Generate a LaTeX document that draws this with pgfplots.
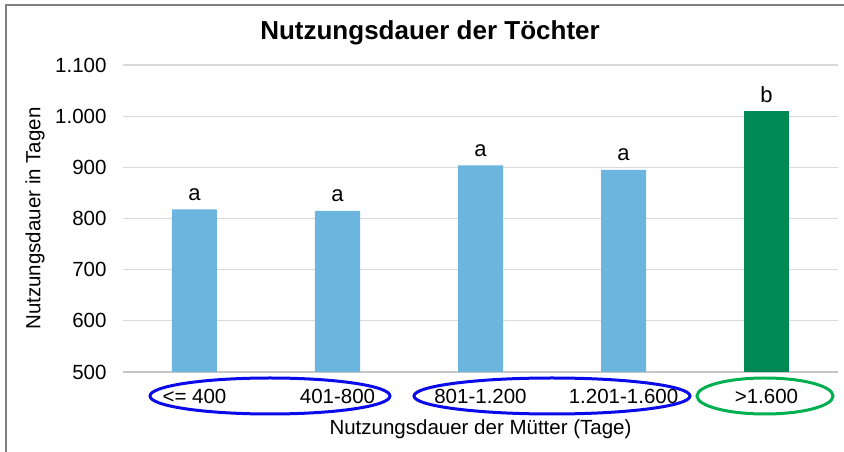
\documentclass[border=0pt]{standalone}
\usepackage{fontspec}
\setmainfont{Liberation Sans}
\usepackage{pgfplots}
\pgfplotsset{compat=1.18}
\usetikzlibrary{calc}
\definecolor{barblue}{RGB}{108,181,222}
\definecolor{bargreen}{RGB}{0,137,84}
\definecolor{ellblue}{RGB}{10,10,235}
\definecolor{ellgreen}{RGB}{0,176,80}
\definecolor{gridgray}{RGB}{217,217,217}
\definecolor{framegray}{RGB}{128,128,128}
\begin{document}
\begin{tikzpicture}[x=1pt,y=1pt]
\begin{axis}[
  scale only axis, width=715pt, height=307pt,
  xmin=-0.5, xmax=4.5, ymin=500, ymax=1100,
  ytick={500,600,...,1100},
  axis x line*=bottom, axis y line*=left,
  x axis line style={draw=gray!45, line width=1.2pt, -},
  y axis line style={draw=none},
  ymajorgrids, grid style={draw=gridgray, line width=1.2pt},
  ytick style={draw=none}, xtick style={draw=none},
  xtick={0,1,2,3,4},
  xticklabels={{<= 400},{401-800},{801-1.200},{1.201-1.600},{>1.600}},
  extra x ticks={-0.5,0.5,1.5,2.5,3.5,4.5},
  extra x tick labels={},
  extra x tick style={tick style={draw=gridgray, line width=1.2pt}, major tick length=6pt, tick align=outside, grid=none},
  /pgf/number format/1000 sep={.},
  /pgf/number format/assume math mode=true,
  yticklabel style={font=\fontsize{20.5}{24}\selectfont, anchor=east, xshift=-13pt},
  xticklabel style={font=\fontsize{20.5}{24}\selectfont, anchor=base, yshift=-32pt},
  xlabel={Nutzungsdauer der Mütter (Tage)},
  xlabel style={font=\fontsize{20.5}{24}\selectfont, at={(rel axis cs:0.5,-0.202)}, anchor=base},
  ylabel={Nutzungsdauer in Tagen},
  ylabel style={font=\fontsize{20.5}{24}\selectfont, at={(rel axis cs:-0.1231,0.5)}, anchor=center},
  title={Nutzungsdauer der Töchter},
  title style={font=\fontsize{26}{30}\selectfont\bfseries, at={(rel axis cs:0.4294,1.062)}, anchor=base},
  clip=false,
]
\addplot[ybar, bar shift=0pt, bar width=45pt, fill=barblue, draw=none,
  point meta=explicit symbolic, nodes near coords,
  nodes near coords style={font=\fontsize{22}{26}\selectfont, anchor=base, yshift=9pt, inner sep=0pt}]
  table[x=x, y=y, meta=l] {
x y l
0 818 a
1 815 a
2 904 a
3 895 a
};
\addplot[ybar, bar shift=0pt, bar width=45pt, fill=bargreen, draw=none,
  point meta=explicit symbolic, nodes near coords,
  nodes near coords style={font=\fontsize{22}{26}\selectfont, anchor=base, yshift=9pt, inner sep=0pt}]
  table[x=x, y=y, meta=l] {
x y l
4 1010 b
};
\coordinate (O) at (rel axis cs:0,0);
\end{axis}
\pgfresetboundingbox
\begin{scope}[shift={($(O)+(-123,-80)$)}]
\useasboundingbox (0,0) rectangle (844,452);
\draw[ellblue, line width=3pt] (270,56) ellipse [x radius=120, y radius=18];
\draw[ellblue, line width=3pt] (552,56) ellipse [x radius=138, y radius=18];
\draw[ellgreen, line width=3pt] (765,56) ellipse [x radius=68, y radius=18];
\draw[framegray, line width=2pt] (6,-10) -- (6,447) -- (860,447);
\end{scope}
\end{tikzpicture}
\end{document}
